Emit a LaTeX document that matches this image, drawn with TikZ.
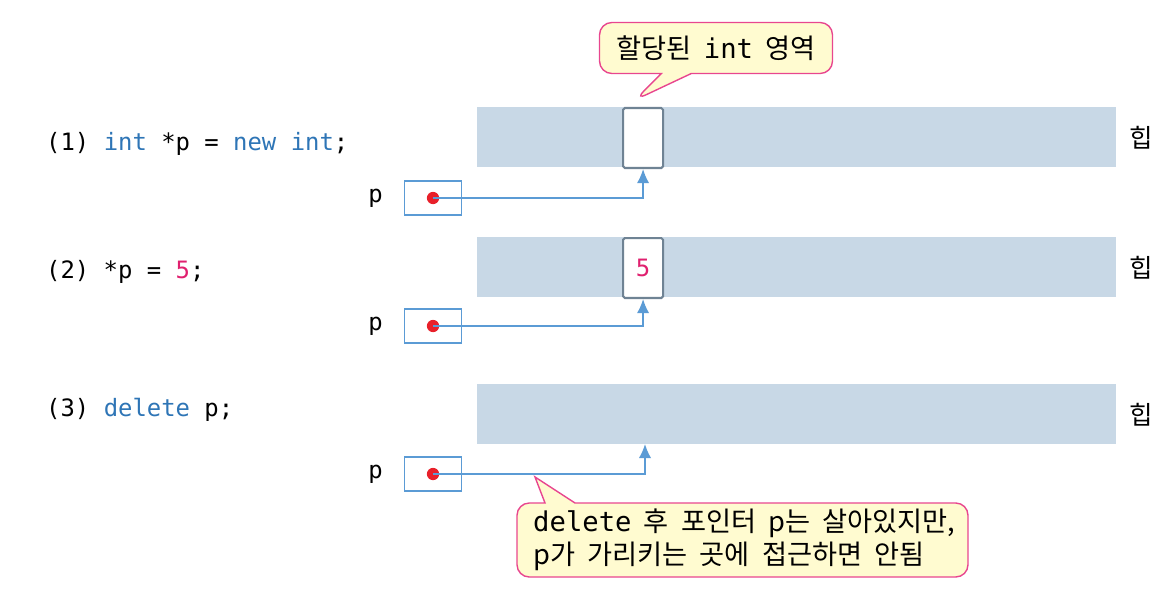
\documentclass[tikz,border=0pt]{standalone}
\usepackage{fontspec}
\setmonofont{DejaVu Sans Mono}
\newfontfamily\cjk[WordSpace=2]{Noto Sans CJK KR}
\usetikzlibrary{positioning,shapes.callouts,arrows.meta}
\definecolor{heapc}{HTML}{C8D8E6}
\definecolor{ptrc}{HTML}{5B9BD5}
\definecolor{kwc}{HTML}{2E75B6}
\definecolor{numc}{HTML}{E0206F}
\definecolor{dotc}{HTML}{E8202A}
\definecolor{notec}{HTML}{FFFBD0}
\definecolor{notedraw}{HTML}{E8468F}
\definecolor{cellc}{HTML}{6F8394}
\tikzset{
  heap/.style={fill=heapc, draw=none, minimum width=12.78cm, minimum height=1.2cm, anchor=north west, inner sep=0pt},
  ptrbox/.style={draw=ptrc, line width=1pt, minimum width=1.14cm, minimum height=0.68cm, inner sep=0pt},
  dot/.style={circle, fill=dotc, minimum size=7pt, inner sep=0pt},
  cell/.style={draw=cellc, very thick, fill=white, rounded corners=1pt, minimum width=0.8cm, minimum height=1.2cm, inner sep=0pt, anchor=north west},
  ptr/.style={ptrc, thick, -{Latex[length=8pt,width=7pt]}},
  code/.style={font=\ttfamily\fontsize{13.6}{16}\selectfont, anchor=west},
  heaplbl/.style={font=\cjk\fontsize{14.5}{16}\selectfont},
  note/.style={rectangle callout, draw=notedraw, thick, fill=notec, rounded corners=7pt, align=left, font=\cjk\fontsize{15.5}{19}\selectfont, inner xsep=8pt, inner ysep=4pt, callout pointer width=0.6cm},
  notebox/.style={draw=notedraw, thick, fill=notec},
}
\begin{document}
\begin{tikzpicture}[x=0.02cm,y=-0.02cm]
\useasboundingbox (0,0) rectangle (1168,591);

% heap rows
\node[heap] (heap1) at (477,107) {};
\node[heap] (heap2) at (477,237) {};
\node[heap] (heap3) at (477,384) {};
\foreach \h in {1,2,3}
  \node[heaplbl] (hl\h) at (1141,0 |- heap\h.center) {힙};

% code lines
\node[code] (c1) at (40,144) {(1) \textcolor{kwc}{int} *p = \textcolor{kwc}{new int};};
\node[code] (c2) at (40,272) {(2) *p = \textcolor{numc}{5};};
\node[code] (c3) at (40,410) {(3) \textcolor{kwc}{delete} p;};

% allocated cells
\node[cell] (cell1) at (622,107) {};
\node[cell] (cell2) at (622,237) {\ttfamily\fontsize{13.6}{16}\selectfont\textcolor{numc}{5}};
\coordinate (cell3) at (645,444);

% pointers
\foreach \r/\y in {1/198,2/326,3/474} {
  \node[ptrbox] (pb\r) at (433,\y) {};
  \node[dot] (pd\r) at (pb\r.center) {};
  \node[code, anchor=east] (pl\r) at (389,\y) {p};
}
\draw[ptr] (pd1.center) -| (cell1.south);
\draw[ptr] (pd2.center) -| (cell2.south);
\draw[ptr] (pd3.center) -| (cell3);

% notes
\node[note, minimum width=4.66cm, minimum height=1.02cm, callout absolute pointer={(635,100)}] (n1) at (716,48) {할당된 {\ttfamily int} 영역};
\coordinate (tip2) at (535,477);
\path[notebox] (545,503) -- (tip2) -- (575,503)
  [rounded corners=7pt] -- (968,503) -- (968,577) -- (517,577) -- (517,503) [sharp corners] -- cycle;
\node[font=\cjk\fontsize{15.5}{19}\selectfont, align=left, anchor=west] (n2) at (527,540) {{\ttfamily delete} 후 포인터 p는 살아있지만,\\p가 가리키는 곳에 접근하면 안됨};
\end{tikzpicture}
\end{document}
